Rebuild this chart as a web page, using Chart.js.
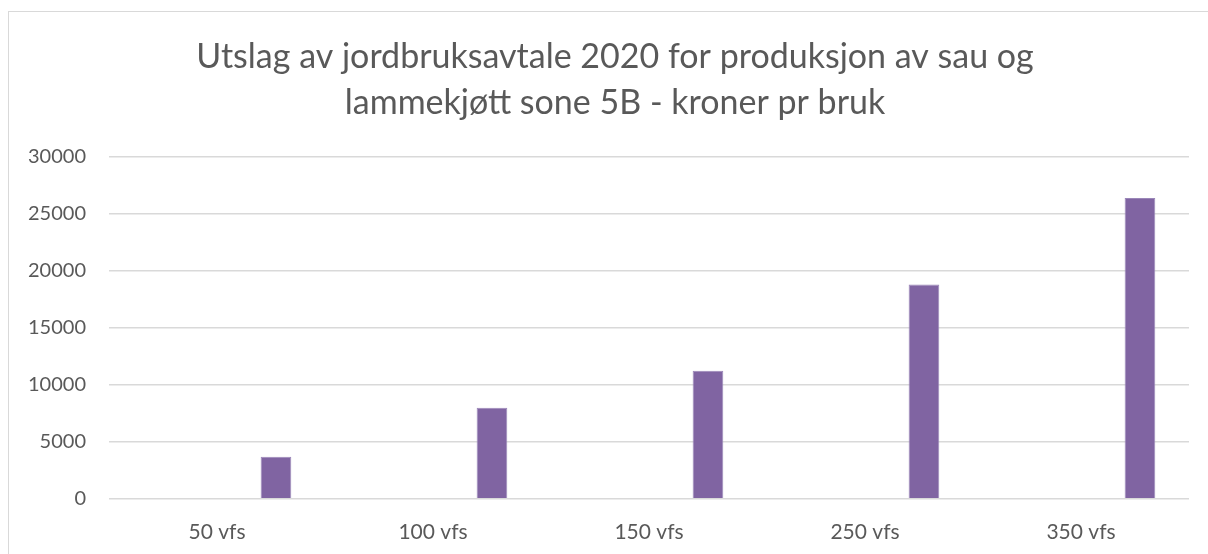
<!DOCTYPE html>
<html>
<head>
<meta charset="utf-8">
<script src="https://cdn.jsdelivr.net/npm/chart.js@4/dist/chart.umd.min.js"></script>
<style>
  html, body { margin: 0; padding: 0; background: #fff; overflow: hidden; }
  #frame {
    position: absolute; left: 8px; top: 11px;
    width: 1212px; height: 560px;
    border: 1px solid #d9d9d9;
  }
</style>
</head>
<body>
<div id="frame"><canvas id="chart" width="1212" height="560"></canvas></div>
<script>
const categories = ['50 vfs', '100 vfs', '150 vfs', '250 vfs', '350 vfs'];
// kroner pr bruk, sone 5B
const utslag = [3700, 8000, 11250, 18800, 26400];
// the sheet has three more columns that are blank for sone 5B
const blank = [null, null, null, null, null];
const yTicks = [0, 5000, 10000, 15000, 20000, 25000, 30000];

const titleLines = [
  'Utslag av jordbruksavtale 2020 for produksjon av sau og',
  'lammekjøtt sone 5B - kroner pr bruk'
];

const purple = '#8064a2';
const grey = '#595959';

const ctx = document.getElementById('chart');
new Chart(ctx, {
  type: 'bar',
  data: {
    labels: categories,
    datasets: [
      { label: 'a', data: blank },
      { label: 'b', data: blank },
      { label: 'c', data: blank },
      {
        label: 'Sone 5B',
        data: utslag,
        backgroundColor: purple,
        borderColor: '#9a86b8',
        borderWidth: 1
      }
    ]
  },
  options: {
    responsive: false,
    animation: false,
    categoryPercentage: 0.728,
    barPercentage: 0.78,
    layout: { padding: { left: 0, right: 0, top: 22, bottom: 6 } },
    plugins: {
      legend: { display: false },
      tooltip: { enabled: false },
      title: {
        display: true,
        text: titleLines,
        color: grey,
        font: { family: 'Lato', size: 34, weight: 'normal', lineHeight: 1.353 },
        padding: { top: 0, bottom: 31 }
      }
    },
    scales: {
      x: {
        grid: { display: false, drawTicks: false },
        border: { display: false },
        ticks: {
          color: grey,
          padding: 21,
          font: { family: 'Lato', size: 21 }
        }
      },
      y: {
        min: 0,
        max: 30000,
        afterFit: (scale) => { scale.width = 100; },
        afterBuildTicks: (scale) => { scale.ticks = yTicks.map(v => ({ value: v })); },
        grid: { color: '#d9d9d9', lineWidth: 1.5, drawTicks: false },
        border: { display: false },
        ticks: {
          color: grey,
          padding: 23,
          font: { family: 'Lato', size: 20 },
          callback: (v) => String(v)
        }
      },
      // empty right margin so the title centres on the whole frame
      yRight: {
        position: 'right',
        display: true,
        afterFit: (scale) => { scale.width = 32; },
        grid: { display: false },
        border: { display: false },
        ticks: { display: false }
      }
    }
  }
});
</script>
</body>
</html>
